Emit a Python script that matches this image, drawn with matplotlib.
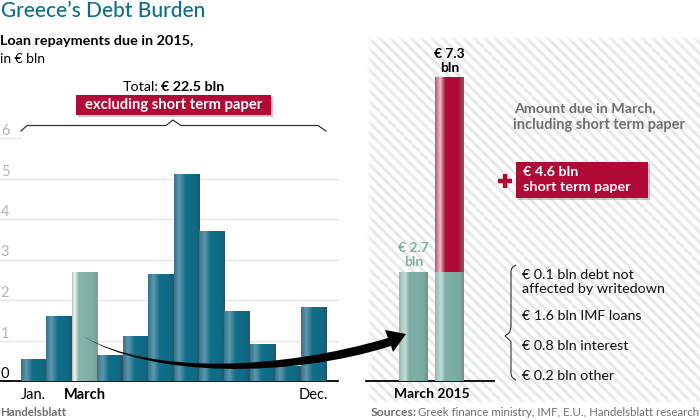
import numpy as np
import matplotlib
matplotlib.use('Agg')
from matplotlib import pyplot as plt
from matplotlib.colors import LinearSegmentedColormap
from matplotlib.patches import Rectangle, PathPatch
from matplotlib.path import Path

plt.rcParams['font.family'] = ['Lato', 'DejaVu Sans']

# values, in EUR bln
months = ['Jan', 'Feb', 'March', 'Apr', 'May', 'Jun', 'Jul', 'Aug', 'Sep', 'Oct', 'Nov', 'Dec']
repayments = [0.52, 1.59, 2.67, 0.62, 1.09, 2.62, 5.11, 3.69, 1.72, 0.89, 0.35, 1.82]
month_ticks = [0, 2, 11]
month_tick_labels = ['Jan.', 'March', 'Dec.']
y_ticks = [0, 1, 2, 3, 4, 5, 6]
march_bars = ['total', 'split']
march_base = [2.68, 2.68]
march_short_term = [0, 4.8]
debt_notes = ['€ 0.1 bln debt not\naffected by writedown', '€ 1.6 bln IMF loans',
              '€ 0.8 bln interest', '€ 0.2 bln other']

W, H = 700, 420
TEAL = '#0f6f8a'
RED = '#b10a37'
GREEN = '#7fb0a5'
GREY_TEXT = '#6f6f6f'

teal_cm = LinearSegmentedColormap.from_list('teal', [(0, '#2f7590'), (0.2, '#5f97ac'), (0.45, '#0f6f8a'),
                                                     (0.85, '#0f6a84'), (1, '#35505c')])
green_cm = LinearSegmentedColormap.from_list('green', [(0, '#a9cbc2'), (0.1, '#f4f8f7'), (0.25, '#86b5aa'),
                                                       (0.85, '#7dada2'), (1, '#8a9793')])
green2_cm = LinearSegmentedColormap.from_list('green2', [(0, '#8fbab0'), (0.2, '#c5dcd6'), (0.35, '#7fb0a5'),
                                                         (0.85, '#7daba0'), (1, '#7f8d89')])
red_cm = LinearSegmentedColormap.from_list('red', [(0, '#c4506f'), (0.18, '#efc0cc'), (0.35, '#b10a37'),
                                                   (0.8, '#ad0c38'), (1, '#7c5a60')])


def px_axes(left, top, right, bottom, **kw):
    return fig.add_axes([left / W, 1 - bottom / H, (right - left) / W, (bottom - top) / H], **kw)


def shade_bars(ax, bars, cmaps):
    # put a sideways gradient over each bar
    grad = np.linspace(0, 1, 64).reshape(1, -1)
    xlim, ylim = ax.get_xlim(), ax.get_ylim()
    for rect, cm in zip(bars, cmaps):
        if rect.get_height() == 0:
            continue
        ax.imshow(grad, cmap=cm, aspect='auto', zorder=3, interpolation='bilinear',
                  extent=(rect.get_x(), rect.get_x() + rect.get_width(),
                          rect.get_y(), rect.get_y() + rect.get_height()))
    ax.set_xlim(xlim)
    ax.set_ylim(ylim)


fig = plt.figure(figsize=(W / 100, H / 100), dpi=100, facecolor='white')

# striped backdrop of the right panel
bg = px_axes(366, 35, 700, 405, zorder=0)
yy, xx = np.mgrid[0:370, 0:334]
stripes = 0.5 + 0.5 * np.cos(2 * np.pi * (xx - yy) / 10.5)
fade = np.clip(xx / 6, 0, 1) * np.clip(yy / 6, 0, 1) * np.clip((369 - yy) / 6, 0, 1)
rgba = np.ones((370, 334, 4))
rgba[..., :3] = 0.87
rgba[..., 3] = stripes ** 2 * fade * 0.75
bg.imshow(rgba, aspect='auto', interpolation='bilinear')
bg.axis('off')

# monthly repayments
ax1 = px_axes(0, 138, 338, 381, zorder=1)
ax1.patch.set_alpha(0)
ax1.set_xlim(-0.5 - 21 / 25.42, -0.5 + 317 / 25.42)
ax1.set_ylim(0, 6)
x = np.arange(len(months))
bars = ax1.bar(x, repayments, width=1.0, color=TEAL, zorder=2)
shade_bars(ax1, bars, [green_cm if m == 'March' else teal_cm for m in months])
for t in y_ticks[1:-1]:
    ax1.axhline(t, color='#e6e6e6', lw=1, zorder=1)
ax1.plot([ax1.get_xlim()[0], -0.5], [6, 6], color='#e6e6e6', lw=1, clip_on=False)
for t in y_ticks:
    ax1.text(ax1.get_xlim()[0] + 0.03, t, str(t), fontsize=10.5, ha='left', va='bottom', clip_on=False,
             color='black' if t == 0 else '#b4b4b4')
for s in ['top', 'left', 'right']:
    ax1.spines[s].set_visible(False)
ax1.spines['bottom'].set_linewidth(1.3)
ax1.set_yticks([])
ax1.set_xticks(month_ticks)
ax1.set_xticklabels(month_tick_labels, fontsize=10.5)
ax1.tick_params(axis='x', length=0, pad=5)
ax1.get_xticklabels()[1].set_fontweight('bold')

# March 2015 detail
ax2 = px_axes(366, 30, 494, 381, zorder=1)
ax2.patch.set_alpha(0)
ax2.set_xlim(-47.5 / 36, 80.5 / 36)
ax2.set_ylim(0, 351 / 40.5)
x2 = np.arange(len(march_bars))
base = ax2.bar(x2, march_base, width=0.8, color=GREEN, zorder=2)
short = ax2.bar(x2, march_short_term, bottom=march_base, width=0.8, color=RED, zorder=2)
shade_bars(ax2, list(base), [green2_cm, green2_cm])
shade_bars(ax2, list(short), [red_cm, red_cm])
for s in ['top', 'left', 'right']:
    ax2.spines[s].set_visible(False)
ax2.spines['bottom'].set_linewidth(1.3)
ax2.set_yticks([])
ax2.set_xticks([0.5])
ax2.set_xticklabels(['March 2015'], fontsize=10, fontweight='bold')
ax2.tick_params(axis='x', length=0, pad=5)
ax2.text(0, march_base[0] + 0.1, '€ 2.7\nbln', ha='center', va='bottom', fontsize=10, fontweight='bold',
         color=GREEN, linespacing=1.2)
ax2.text(1, march_base[1] + march_short_term[1] + 0.1, '€ 7.3\nbln', ha='center', va='bottom', fontsize=10,
         fontweight='bold', linespacing=1.2)

# everything else sits on a pixel overlay
ov = px_axes(0, 0, W, H, zorder=5)
ov.set_xlim(0, W)
ov.set_ylim(H, 0)
ov.axis('off')
ov.patch.set_alpha(0)

ov.text(1, 11, 'Greece’s Debt Burden', fontsize=15, fontweight='medium', color=TEAL, va='center')
ov.text(0, 41, 'Loan repayments due in 2015,', fontsize=10.35, fontweight='bold', va='center')
ov.text(0, 59, 'in € bln', fontsize=10, va='center')
ov.text(123, 87, 'Total:', fontsize=10.3, va='center')
ov.text(161, 87, '€ 22.5 bln', fontsize=10.3, fontweight='bold', va='center')

ov.add_patch(Rectangle((78, 97), 195, 20, color='#999999', alpha=0.5, lw=0))
ov.add_patch(Rectangle((76, 95), 195, 20, color=RED, lw=0))
ov.text(173.5, 105, 'excluding short term paper', fontsize=10.6, fontweight='bold', color='white',
        ha='center', va='center')

ov.plot([21, 27, 166, 173, 181, 318, 326], [131, 125.5, 125.5, 120, 125.5, 125.5, 131], color='#333333', lw=0.9)

ov.text(514, 108, 'Amount due in March,', fontsize=10.3, fontweight='bold', color=GREY_TEXT, va='center')
ov.text(513, 125, 'including short term paper', fontsize=10.5, fontweight='bold', color=GREY_TEXT, va='center')

ov.add_patch(Rectangle((518, 164), 132, 36, color='#999999', alpha=0.5, lw=0))
ov.add_patch(Rectangle((516, 162), 132, 36, color=RED, lw=0))
ov.text(523, 172, '€ 4.6 bln', fontsize=10.4, fontweight='bold', color='white', va='center')
ov.text(523, 187, 'short term paper', fontsize=10.4, fontweight='bold', color='white', va='center')
ov.plot([498, 512], [181, 181], color=RED, lw=3.2, solid_capstyle='butt')
ov.plot([505, 505], [174, 188], color=RED, lw=3.2, solid_capstyle='butt')

# curly brace next to the breakdown
brace = Path([(516, 265), (511, 267), (511, 272), (511, 325), (511, 330), (509, 333), (505, 336),
              (509, 339), (511, 342), (511, 347), (511, 373), (511, 378), (516, 380)],
             [Path.MOVETO, Path.CURVE3, Path.CURVE3, Path.LINETO, Path.CURVE3, Path.CURVE3, Path.LINETO,
              Path.CURVE3, Path.CURVE3, Path.LINETO, Path.LINETO, Path.CURVE3, Path.CURVE3])
ov.add_patch(PathPatch(brace, fc='none', ec='#333333', lw=0.8))
for note, y in zip(debt_notes, [282, 316, 346, 376]):
    ov.text(522, y, note, fontsize=10.3, va='center', linespacing=1.25, color='#111111')

# swoosh arrow from the March bar to the detail
arrow = Path([(83, 336), (150, 375), (280, 370), (388, 338), (385, 330), (406, 334), (393, 352), (391, 346),
              (290, 378), (150, 378), (83, 336)],
             [Path.MOVETO, Path.CURVE4, Path.CURVE4, Path.CURVE4, Path.LINETO, Path.LINETO, Path.LINETO,
              Path.LINETO, Path.CURVE4, Path.CURVE4, Path.CURVE4])
ov.add_patch(PathPatch(arrow, fc='black', ec='none'))

ov.text(0, 412, 'Handelsblatt', fontsize=8.3, fontweight='bold', color=GREY_TEXT, va='center')
ov.text(371, 412, 'Sources:', fontsize=8.7, fontweight='bold', color=GREY_TEXT, va='center')
ov.text(418, 412, 'Greek finance ministry, IMF, E.U., Handelsblatt research', fontsize=8.25,
        color=GREY_TEXT, va='center')

fig.savefig('out.png', dpi=100)
